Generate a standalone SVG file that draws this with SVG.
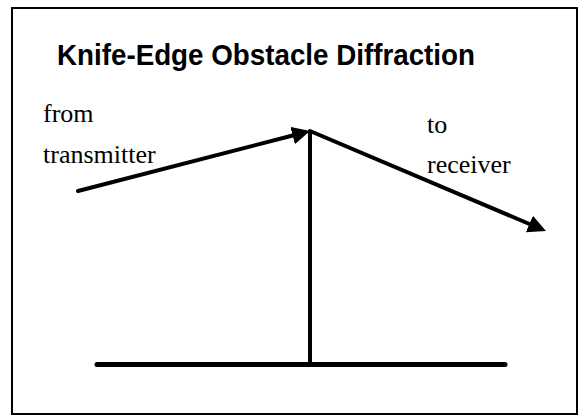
<svg xmlns="http://www.w3.org/2000/svg" width="582" height="416" viewBox="0 0 582 416">
  <style>
    .title { font-family: "Liberation Sans", Arial, sans-serif; font-weight: bold; font-size: 30px; fill: #000; }
    .lbl { font-family: "Liberation Serif", "Times New Roman", serif; font-size: 26px; fill: #000; }
    .ray { stroke: #000; stroke-width: 4; fill: none; stroke-linecap: round; }
    .solid { stroke: #000; fill: none; }
  </style>
  <defs>
    <marker id="arrow" markerUnits="userSpaceOnUse" viewBox="0 -9 18 18" markerWidth="18" markerHeight="18" refX="0" refY="0" orient="auto">
      <path d="M0,-9 L18,0 L0,9 z" fill="#000"/>
    </marker>
  </defs>
  <rect x="0" y="0" width="582" height="416" fill="#fff"/>
  <rect id="frame" x="12" y="8" width="565" height="406" fill="none" stroke="#000" stroke-width="2"/>
  <text id="title" class="title" x="57" y="65" textLength="418" lengthAdjust="spacingAndGlyphs">Knife-Edge Obstacle Diffraction</text>
  <g id="transmitter-label">
    <text class="lbl" x="43" y="122">from</text>
    <text class="lbl" x="43" y="163">transmitter</text>
  </g>
  <g id="receiver-label">
    <text class="lbl" x="427" y="133">to</text>
    <text class="lbl" x="427" y="173">receiver</text>
  </g>
  <g id="knife-edge">
    <line class="solid" x1="310" y1="131" x2="310" y2="364" stroke-width="4"/>
  </g>
  <g id="ground">
    <line class="solid" x1="97" y1="364.5" x2="505" y2="364.5" stroke-width="5" stroke-linecap="round"/>
  </g>
  <g id="connectors">
    <line class="ray" x1="78" y1="191" x2="292.6" y2="135.5" marker-end="url(#arrow)"/>
    <line class="ray" x1="310" y1="131" x2="529.4" y2="224" marker-end="url(#arrow)"/>
  </g>
</svg>
